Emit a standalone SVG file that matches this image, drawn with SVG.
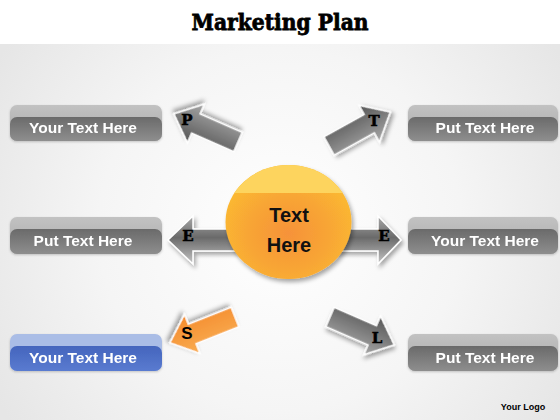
<svg xmlns="http://www.w3.org/2000/svg" width="560" height="420" viewBox="0 0 560 420">
<defs>
<radialGradient id="bg" cx="280" cy="230" r="330" gradientUnits="userSpaceOnUse">
<stop offset="0" stop-color="#ffffff"/>
<stop offset="0.55" stop-color="#f5f5f5"/>
<stop offset="1" stop-color="#e6e6e6"/>
</radialGradient>
<linearGradient id="boxDark" x1="0" y1="0" x2="0" y2="1">
<stop offset="0" stop-color="#6a6a6a"/>
<stop offset="1" stop-color="#8e8e8e"/>
</linearGradient>
<linearGradient id="boxLight" x1="0" y1="0" x2="0" y2="1">
<stop offset="0" stop-color="#c2c2c2"/>
<stop offset="1" stop-color="#a9a9a9"/>
</linearGradient>
<linearGradient id="blueDark" x1="0" y1="0" x2="0" y2="1">
<stop offset="0" stop-color="#4465bd"/>
<stop offset="1" stop-color="#5a7bd0"/>
</linearGradient>
<linearGradient id="arrGray" x1="0" y1="0" x2="0" y2="1">
<stop offset="0" stop-color="#555555"/>
<stop offset="1" stop-color="#a6a6a6"/>
</linearGradient>
<linearGradient id="arrE" x1="0" y1="0" x2="0" y2="1">
<stop offset="0" stop-color="#a8a8a8"/>
<stop offset="0.45" stop-color="#6a6a6a"/>
<stop offset="1" stop-color="#c4c4c4"/>
</linearGradient>
<linearGradient id="arrOrange" x1="0" y1="0" x2="0" y2="1">
<stop offset="0" stop-color="#f9ad52"/>
<stop offset="1" stop-color="#f48a2c"/>
</linearGradient>
<radialGradient id="circ" cx="0.5" cy="0.6" r="0.55">
<stop offset="0" stop-color="#f6923a"/>
<stop offset="0.6" stop-color="#f8a634"/>
<stop offset="1" stop-color="#fbb833"/>
</radialGradient>
<clipPath id="topBand"><rect x="200" y="150" width="180" height="43"/></clipPath>
<filter id="sh" x="-30%" y="-30%" width="160%" height="160%">
<feDropShadow dx="2" dy="3" stdDeviation="2" flood-color="#000" flood-opacity="0.35"/>
</filter>
<filter id="bsh" x="-10%" y="-20%" width="120%" height="150%">
<feDropShadow dx="0" dy="1" stdDeviation="1" flood-color="#000" flood-opacity="0.2"/>
</filter>
<path id="arrow" d="M0,-10.5 L46,-10.5 L46,-21 L70,0 L46,21 L46,10.5 L0,10.5 Z"/>
</defs>
<style>
.boxText{font-family:"Liberation Sans",Arial,sans-serif;font-weight:bold;font-size:15.5px;fill:#ffffff;text-anchor:middle}
.letter{font-family:"DejaVu Serif","Liberation Serif",serif;font-weight:bold;font-size:15px;fill:#000;stroke:#000;stroke-width:0.5;text-anchor:middle}
.arr{stroke:#ffffff;stroke-width:1.5;filter:url(#sh)}
</style>
<rect x="0" y="0" width="560" height="420" fill="#ffffff"/>
<rect x="0" y="44" width="560" height="376" fill="url(#bg)"/>
<text x="280" y="30" font-family="DejaVu Serif,'Liberation Serif',serif" font-weight="bold" font-size="23" text-anchor="middle" textLength="177" lengthAdjust="spacingAndGlyphs" fill="#000" stroke="#000" stroke-width="0.8">Marketing Plan</text>

<g id="connectors">
<use href="#arrow" class="arr" fill="url(#arrGray)" transform="translate(238,142) rotate(203.7)"/>
<use href="#arrow" class="arr" fill="url(#arrGray)" transform="translate(329,146) rotate(-29)"/>
<use href="#arrow" class="arr" fill="url(#arrOrange)" transform="translate(235,317) rotate(158.4)"/>
<use href="#arrow" class="arr" fill="url(#arrGray)" transform="translate(330,317) rotate(23.5)"/>
<path class="arr" fill="url(#arrE)" d="M245,229 L193,229 L193,216 L168,240 L193,264 L193,251 L245,251 Z"/>
<path class="arr" fill="url(#arrE)" d="M330,229 L378,229 L378,216 L401,240 L378,264 L378,251 L330,251 Z"/>
<text class="letter" x="187" y="125">P</text>
<text class="letter" x="374" y="126">T</text>
<text class="letter" x="188" y="241">E</text>
<text class="letter" x="384" y="241">E</text>
<text x="187" y="339" font-family="'Liberation Sans',Arial,sans-serif" font-weight="bold" font-size="17" text-anchor="middle" fill="#000">S</text>
<text class="letter" x="377" y="343">L</text>
</g>

<g id="center">
<ellipse cx="288.5" cy="222" rx="63" ry="57" fill="url(#circ)" filter="url(#sh)"/>
<ellipse cx="288.5" cy="222" rx="63" ry="57" fill="#fdd45e" clip-path="url(#topBand)"/>
<text x="289" y="222" font-family="'Liberation Sans',Arial,sans-serif" font-weight="bold" font-size="20" text-anchor="middle" fill="#111">Text</text>
<text x="289" y="252" font-family="'Liberation Sans',Arial,sans-serif" font-weight="bold" font-size="20" text-anchor="middle" fill="#111">Here</text>
</g>

<g id="box-top-left" filter="url(#bsh)">
<rect x="10" y="105" width="152" height="36" rx="7" fill="url(#boxLight)"/>
<rect x="10" y="117" width="152" height="24" rx="7" fill="url(#boxDark)"/>
<text class="boxText" x="83" y="133">Your Text Here</text>
</g>
<g id="box-top-right" filter="url(#bsh)">
<rect x="408" y="105" width="150" height="36" rx="7" fill="url(#boxLight)"/>
<rect x="408" y="117" width="150" height="24" rx="7" fill="url(#boxDark)"/>
<text class="boxText" x="485" y="133">Put Text Here</text>
</g>
<g id="box-mid-left" filter="url(#bsh)">
<rect x="10" y="217" width="152" height="37" rx="7" fill="url(#boxLight)"/>
<rect x="10" y="229" width="152" height="25" rx="7" fill="url(#boxDark)"/>
<text class="boxText" x="83" y="246">Put Text Here</text>
</g>
<g id="box-mid-right" filter="url(#bsh)">
<rect x="408" y="217" width="150" height="37" rx="7" fill="url(#boxLight)"/>
<rect x="408" y="229" width="150" height="25" rx="7" fill="url(#boxDark)"/>
<text class="boxText" x="485" y="246">Your Text Here</text>
</g>
<g id="box-bottom-left" filter="url(#bsh)">
<rect x="10" y="334" width="152" height="37" rx="7" fill="#aabde6"/>
<rect x="10" y="346" width="152" height="25" rx="7" fill="url(#blueDark)"/>
<text class="boxText" x="83" y="363">Your Text Here</text>
</g>
<g id="box-bottom-right" filter="url(#bsh)">
<rect x="408" y="334" width="150" height="37" rx="7" fill="url(#boxLight)"/>
<rect x="408" y="346" width="150" height="25" rx="7" fill="url(#boxDark)"/>
<text class="boxText" x="485" y="363">Put Text Here</text>
</g>

<text x="523" y="410" font-family="'Liberation Sans',Arial,sans-serif" font-weight="bold" font-size="9" text-anchor="middle" fill="#000">Your Logo</text>
</svg>
